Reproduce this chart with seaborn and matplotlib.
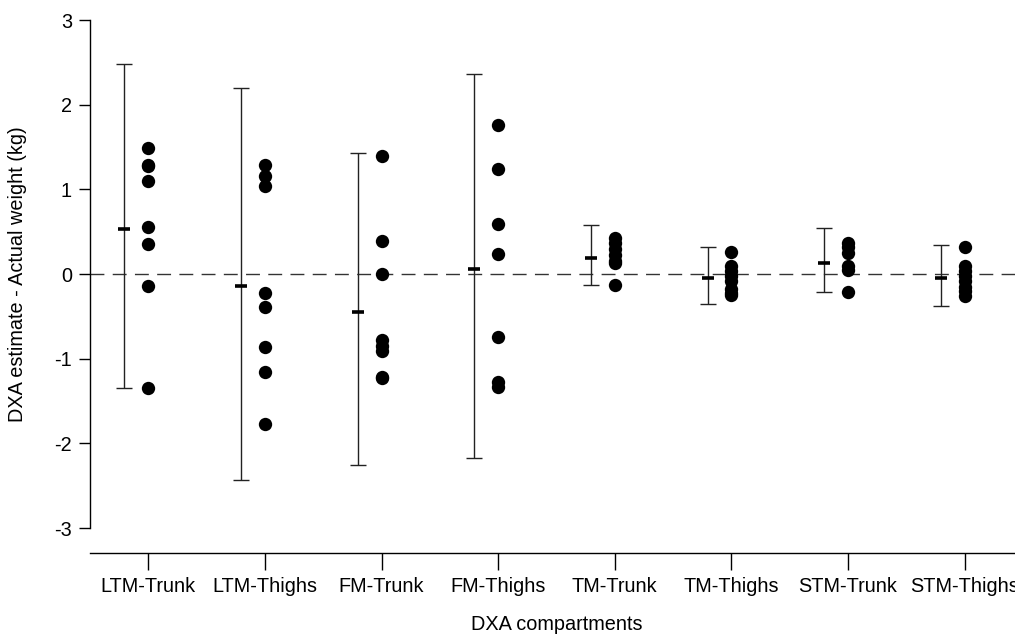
import matplotlib
matplotlib.use('Agg')
import matplotlib.pyplot as plt
import numpy as np
import pandas as pd
import seaborn as sns

# DXA compartments and individual differences (DXA estimate - actual weight, kg)
categories = ['LTM-Trunk', 'LTM-Thighs', 'FM-Trunk', 'FM-Thighs',
              'TM-Trunk', 'TM-Thighs', 'STM-Trunk', 'STM-Thighs']
ltm_trunk = [1.49, 1.28, 1.29, 1.10, 0.56, 0.35, -0.14, -1.35]
ltm_thighs = [1.29, 1.16, 1.04, -0.22, -0.39, -0.86, -1.16, -1.77]
fm_trunk = [1.39, 0.39, 0.00, -0.78, -0.85, -0.91, -1.22, -1.23]
fm_thighs = [1.76, 1.24, 0.59, 0.24, -0.74, -1.27, -1.33]
tm_trunk = [0.42, 0.37, 0.30, 0.23, 0.15, 0.13, -0.13]
tm_thighs = [0.26, 0.10, 0.03, -0.02, -0.08, -0.18, -0.22, -0.25]
stm_trunk = [0.37, 0.32, 0.25, 0.09, 0.05, -0.21]
stm_thighs = [0.32, 0.09, 0.03, -0.02, -0.08, -0.15, -0.20, -0.26]

# bias and limits of agreement
mean_diff = [0.53, -0.145, -0.445, 0.055, 0.185, -0.05, 0.126, -0.05]
upper_loa = [2.48, 2.20, 1.43, 2.36, 0.58, 0.32, 0.54, 0.34]
lower_loa = [-1.35, -2.43, -2.25, -2.17, -0.13, -0.35, -0.21, -0.38]

groups = [ltm_trunk, ltm_thighs, fm_trunk, fm_thighs,
          tm_trunk, tm_thighs, stm_trunk, stm_thighs]
df = pd.DataFrame({'comp': [c for c, g in zip(categories, groups) for _ in g],
                   'diff': [v for g in groups for v in g]})

sns.set_style('ticks')
plt.rcParams['font.family'] = ['Liberation Sans', 'DejaVu Sans']
plt.rcParams['axes.unicode_minus'] = False
plt.rcParams['text.color'] = 'black'
plt.rcParams['axes.labelcolor'] = 'black'
plt.rcParams['xtick.color'] = 'black'
plt.rcParams['ytick.color'] = 'black'
plt.rcParams['axes.edgecolor'] = 'black'

fig = plt.figure(figsize=(10.15, 6.35), dpi=100)
ax = fig.add_axes([90 / 1015, 82 / 635, 933 / 1015, 533 / 635])

sns.stripplot(data=df, x='comp', y='diff', order=categories, jitter=False,
              color='black', size=9.6, linewidth=0, ax=ax, zorder=3)

# limits of agreement, drawn just left of each column of points
xpos = np.arange(len(categories)) - 0.205
mean_arr = np.array(mean_diff)
ax.errorbar(xpos, mean_arr,
            yerr=[mean_arr - np.array(lower_loa), np.array(upper_loa) - mean_arr],
            fmt='none', ecolor='#222222', elinewidth=1.0,
            capsize=5.8, capthick=1.0, zorder=2)
ax.plot(xpos, mean_arr, ls='none', marker='_', color='black',
        markersize=8, markeredgewidth=2.6, zorder=2)

ax.axhline(0, color='#333333', lw=1.0, dashes=(10, 6), zorder=1)

ax.set_xlim(-0.5, 7.5)
ax.set_ylim(-3.295, 3)
ax.set_yticks([-3, -2, -1, 0, 1, 2, 3])
ax.spines['top'].set_visible(False)
ax.spines['right'].set_visible(False)
ax.spines['left'].set_bounds(-3, 3)
ax.spines['left'].set_linewidth(1.0)
ax.spines['bottom'].set_linewidth(1.0)
ax.tick_params(axis='y', direction='out', length=8, width=1, pad=5, labelsize=14.3)
ax.tick_params(axis='x', direction='out', length=12, width=1, pad=5, labelsize=14.3)

ax.set_xlabel('DXA compartments', fontsize=14.3, labelpad=14)
ax.set_ylabel('DXA estimate - Actual weight (kg)', fontsize=14.3)
ax.yaxis.set_label_coords(-0.067, 0.523)

fig.savefig('out.png', dpi=100)
